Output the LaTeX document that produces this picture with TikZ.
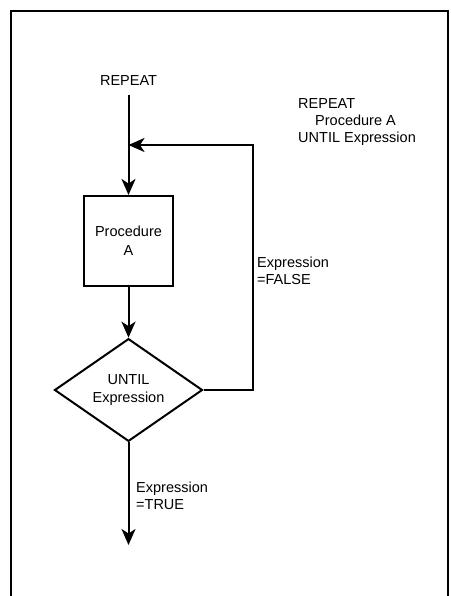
\documentclass[tikz,border=0pt]{standalone}
\usepackage{fontspec}
\setmainfont{Liberation Sans}
\usetikzlibrary{shapes.geometric,arrows.meta}
\begin{document}
\begin{tikzpicture}[x=1pt,y=-1pt,
  every node/.style={font=\fontsize{14.5}{17}\selectfont, inner sep=0pt},
  line/.style={line width=2pt, line join=miter},
  flow/.style={line, -{Stealth[length=16pt,width=14pt,inset=4.5pt]}},
  procbox/.style={draw, line width=2pt, rectangle, minimum width=89pt, minimum height=90pt, align=center},
  testbox/.style={draw, line width=2pt, diamond, minimum width=148pt, minimum height=100pt, align=center},
  lbl/.style={align=left, anchor=west}]
  \useasboundingbox (0,0) rectangle (450,596);
  % page frame, open at the bottom
  \draw[line width=2pt] (11,596) -- (11,11) -- (448,11) -- (448,596);

  \node (rep) at (128.5,81) {REPEAT};
  \coordinate (start) at (128.5,95);
  \coordinate (jn) at (128.5,145);
  \node[procbox] (proc) at (128.5,241) {Procedure\\[2pt]A};
  \node[testbox] (test) at (128.5,390) {UNTIL\\[1pt]Expression};
  \coordinate (cr) at (253,390);
  \coordinate (ct) at (253,145);
  \coordinate (exit) at (128.5,545);

  \draw[flow] (start) -- (proc.north);
  \draw[flow] (proc.south) -- (test.north);
  \draw[flow] (test.east) -- (cr) -- (ct) -- (jn);
  \draw[flow] (test.south) -- (exit);

  \node[lbl] (flab) at (257,270.5) {Expression\\=FALSE};
  \node[lbl] (tlab) at (136,495.5) {Expression\\=TRUE};
  \node[lbl] (code) at (298,122) {REPEAT\\\hspace*{17pt}Procedure A\\UNTIL Expression};
\end{tikzpicture}
\end{document}
